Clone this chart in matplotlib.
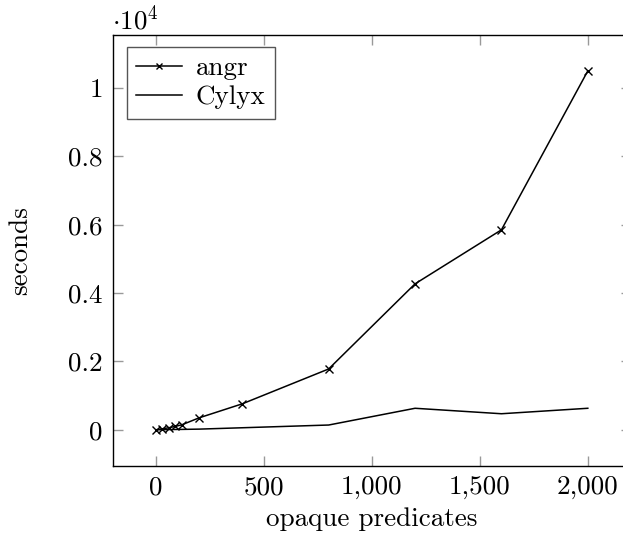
import matplotlib
matplotlib.use("Agg")
import matplotlib.pyplot as plt
from matplotlib.ticker import FuncFormatter, FixedLocator

predicates = [0, 30, 60, 90, 120, 200, 400, 800, 1200, 1600, 2000]
angr = [0, 30, 60, 100, 146, 350, 760, 1780, 4270, 5850, 10500]
cylyx = [0, 5, 8, 10, 12, 20, 60, 140, 630, 470, 630]

x_ticks = [0, 500, 1000, 1500, 2000]
y_ticks = [0, 2000, 4000, 6000, 8000, 10000]

plt.rcParams['font.family'] = ['cmr10', 'DejaVu Serif']
plt.rcParams['mathtext.fontset'] = 'cm'
plt.rcParams['axes.formatter.use_mathtext'] = True

FS = 19.5
W, H = 623, 542
fig = plt.figure(figsize=(W / 100, H / 100), dpi=100)
left, right, top, bottom = 112.7, 631, 35, 465.7
ax = fig.add_axes([left / W, 1 - bottom / H, (right - left) / W, (bottom - top) / H])

ax.plot(predicates, angr, color='black', lw=1.1, marker='x', ms=6, mew=1.0, label='angr')
ax.plot(predicates, cylyx, color='black', lw=1.1, label='Cylyx')

ax.set_xlim(-200, 2200)
ax.set_ylim(-1050, 11550)
ax.xaxis.set_major_locator(FixedLocator(x_ticks))
ax.yaxis.set_major_locator(FixedLocator(y_ticks))
ax.xaxis.set_major_formatter(FuncFormatter(lambda v, p: f"{int(v):,}"))
ax.yaxis.set_major_formatter(FuncFormatter(lambda v, p: "0" if v == 0 else ("1" if v == 10000 else f"{v/10000:.1f}")))

ax.tick_params(direction='in', length=7, width=1.0, color='#999999', labelsize=FS,
               top=True, right=True, pad=7)
for s in ax.spines.values():
    s.set_linewidth(1.0)
    s.set_color('black')

ax.set_xlabel('opaque predicates', fontsize=FS, labelpad=6)
ax.set_ylabel('seconds', fontsize=FS, labelpad=26)

fig.text(112 / W, 1 - 19 / H, r'$\cdot 10^4$', fontsize=FS, ha='left', va='center')

leg = ax.legend(loc='upper left', bbox_to_anchor=(0.027, 0.972), fontsize=FS,
                frameon=True, fancybox=False, edgecolor='#555555', framealpha=1,
                handlelength=1.7, handletextpad=0.5, borderpad=0.35, labelspacing=0.18,
                borderaxespad=0, markerscale=0.7)
leg.get_frame().set_linewidth(1.0)

fig.savefig('out.png', dpi=100)
